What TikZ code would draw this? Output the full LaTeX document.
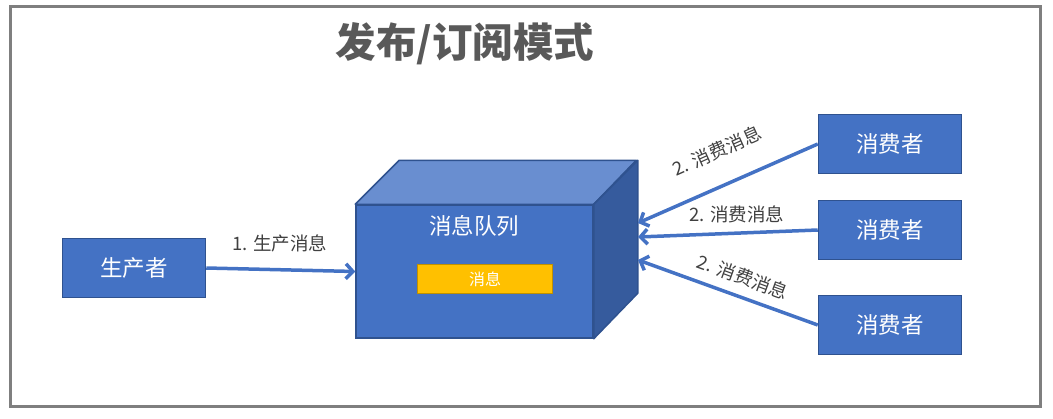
\documentclass[tikz,border=0pt]{standalone}
\usepackage{fontspec}
\setmainfont{Noto Sans CJK SC}
\usetikzlibrary{positioning}
\usetikzlibrary{arrows.meta}
\usetikzlibrary{calc}
\definecolor{boxblue}{HTML}{4472C4}
\definecolor{boxedge}{HTML}{2F528F}
\definecolor{topblue}{HTML}{698ED0}
\definecolor{sideblue}{HTML}{365B9D}
\definecolor{msgyellow}{HTML}{FFC000}
\definecolor{msgedge}{HTML}{BF9000}
\definecolor{labelgray}{HTML}{404040}
\definecolor{titlegray}{HTML}{595959}
\definecolor{framegray}{HTML}{7F7F7F}

\begin{document}
\begin{tikzpicture}[
    x=1pt, y=-1pt,
    box/.style={rectangle, draw=boxedge, fill=boxblue, line width=1.5pt, minimum width=143pt, minimum height=59pt, text=white, font=\fontsize{22.5}{24}\selectfont},
    arrow/.style={-{Straight Barb[length=7pt,width=15pt]}, line width=3.5pt, draw=boxblue},
    msglabel/.style={font=\fontsize{18.5}{20}\selectfont, text=labelgray}
]
\useasboundingbox (0,0) rectangle (1053,418);
\draw[framegray, line width=3pt] (10.5,6) rectangle (1040.5,406.5);

\node[font=\fontsize{40.5}{44}\selectfont\bfseries, text=titlegray] (title) at (465,44) {发布/订阅模式};

\node[box] (producer) at (134,268) {生产者};

% message queue as a cube
\node[box, minimum width=237pt, minimum height=133pt] (queue) at (474.5,271.5) {};
\filldraw[fill=topblue, draw=boxedge, line width=1.5pt, line join=round] (queue.north west) -- ++(44,-44) -- ++(237,0) -- (queue.north east) -- cycle;
\filldraw[fill=sideblue, draw=boxedge, line width=1.5pt, line join=round] (queue.north east) -- ++(44,-44) -- ++(0,133) -- (queue.south east) -- cycle;
\node[text=white, font=\fontsize{22.5}{24}\selectfont] (qtitle) at (474,226) {消息队列};
\node[draw=msgedge, fill=msgyellow, line width=1.5pt, minimum width=135pt, minimum height=29pt, text=white, font=\fontsize{16}{18}\selectfont] (msg) at (485,279) {消息};

\node[box] (consumer1) at (890,144) {消费者};
\node[box] (consumer2) at (890,230) {消费者};
\node[box] (consumer3) at (890,325) {消费者};

\coordinate (in1) at (638,223);
\coordinate (in2) at (638,237);
\coordinate (in3) at (638,260);

\draw[arrow] (producer.east) -- (queue.west);
\draw[arrow] (consumer1.west) -- (in1);
\draw[arrow] (consumer2.west) -- (in2);
\draw[arrow] (consumer3.west) -- (in3);

% Annotations
\node[msglabel] (produce) at (280,243) {1. 生产消息};
\node[msglabel, rotate=24] (consume1) at (717,151) {2. 消费消息};
\node[msglabel] (consume2) at (737,214) {2. 消费消息};
\node[msglabel, rotate=-20] (consume3) at (743,277) {2. 消费消息};

\end{tikzpicture}
\end{document}
